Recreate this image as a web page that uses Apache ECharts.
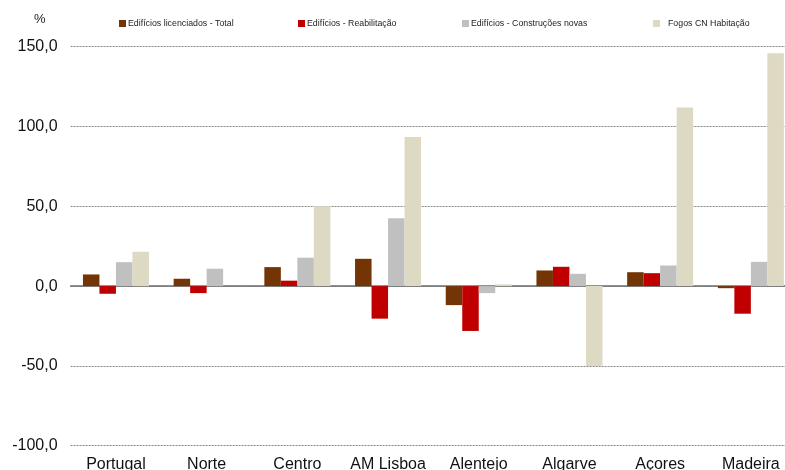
<!DOCTYPE html>
<html>
<head>
<meta charset="utf-8">
<script src="https://cdn.jsdelivr.net/npm/echarts@6/dist/echarts.min.js"></script>
<style>
  html, body { margin: 0; padding: 0; background: #fff; }
  #main { width: 785px; height: 470px; }
</style>
</head>
<body>
<div id="main"></div>
<script>
var regioes = ['Portugal', 'Norte', 'Centro', 'AM Lisboa', 'Alentejo', 'Algarve', 'Açores', 'Madeira'];
var nomes = ['Edifícios licenciados - Total', 'Edifícios - Reabilitação', 'Edifícios - Construções novas', 'Fogos CN Habitação'];
var total = [7.3, 4.6, 11.9, 17.1, -11.9, 9.8, 8.7, -1.3];
var reabilitacao = [-4.8, -4.4, 3.4, -20.4, -28.1, 12.1, 8.1, -17.3];
var novas = [15.0, 10.9, 17.8, 42.5, -4.4, 7.7, 12.9, 15.2];
var fogos = [21.5, 0, 50.0, 93.4, 1.1, -50.0, 111.9, 145.9];
var cores = ['#733505', '#c00000', '#c0c0c0', '#ddd9c3'];

var chart = echarts.init(document.getElementById('main'));

function legenda(i, left, pad) {
    return {
        data: [nomes[i]],
        left: left,
        top: 19,
        icon: 'rect',
        itemWidth: 7,
        itemHeight: 7,
        selectedMode: false,
        padding: 0,
        textStyle: {
            fontFamily: 'Liberation Sans',
            fontSize: 8.8,
            color: '#222',
            padding: [0, 0, 0, pad]
        }
    };
}

function serie(i, dados) {
    return {
        name: nomes[i],
        type: 'bar',
        data: dados,
        barWidth: 16.5,
        barGap: '0%',
        itemStyle: { color: cores[i] }
    };
}

var option = {
    animation: false,
    color: cores,
    textStyle: { fontFamily: 'Liberation Sans' },
    title: {
        text: '%',
        left: 29,
        top: 8,
        textStyle: { fontFamily: 'Liberation Sans', fontSize: 13, fontWeight: 'normal', color: '#222' }
    },
    legend: [
        legenda(0, 119, -3),
        legenda(1, 298, -3),
        legenda(2, 462, -3),
        legenda(3, 653, 3)
    ],
    grid: {
        left: 70.6,
        width: 725.6,
        top: 46.7,
        height: 399,
        outerBoundsMode: 'none'
    },
    xAxis: [{
        type: 'category',
        data: regioes,
        position: 'bottom',
        axisLine: { show: false, onZero: false },
        axisTick: { show: false },
        axisLabel: {
            interval: 0,
            margin: 11,
            fontFamily: 'Liberation Sans',
            fontSize: 16,
            color: '#111'
        }
    }, {
        type: 'category',
        data: regioes,
        axisLine: { onZero: true, lineStyle: { color: '#6e6e6e', width: 1.5 } },
        axisTick: { show: false },
        axisLabel: { show: false }
    }],
    yAxis: {
        type: 'value',
        min: -100,
        max: 150,
        interval: 50,
        axisLine: { show: false },
        axisTick: { show: false },
        axisLabel: {
            margin: 13,
            fontFamily: 'Liberation Sans',
            fontSize: 16,
            color: '#111',
            formatter: function (v) { return v.toFixed(1).replace('.', ','); }
        },
        splitLine: {
            lineStyle: { color: '#888', type: [2, 1], width: 1 }
        }
    },
    series: [
        serie(0, total),
        serie(1, reabilitacao),
        serie(2, novas),
        serie(3, fogos)
    ]
};

chart.setOption(option);
</script>
</body>
</html>
